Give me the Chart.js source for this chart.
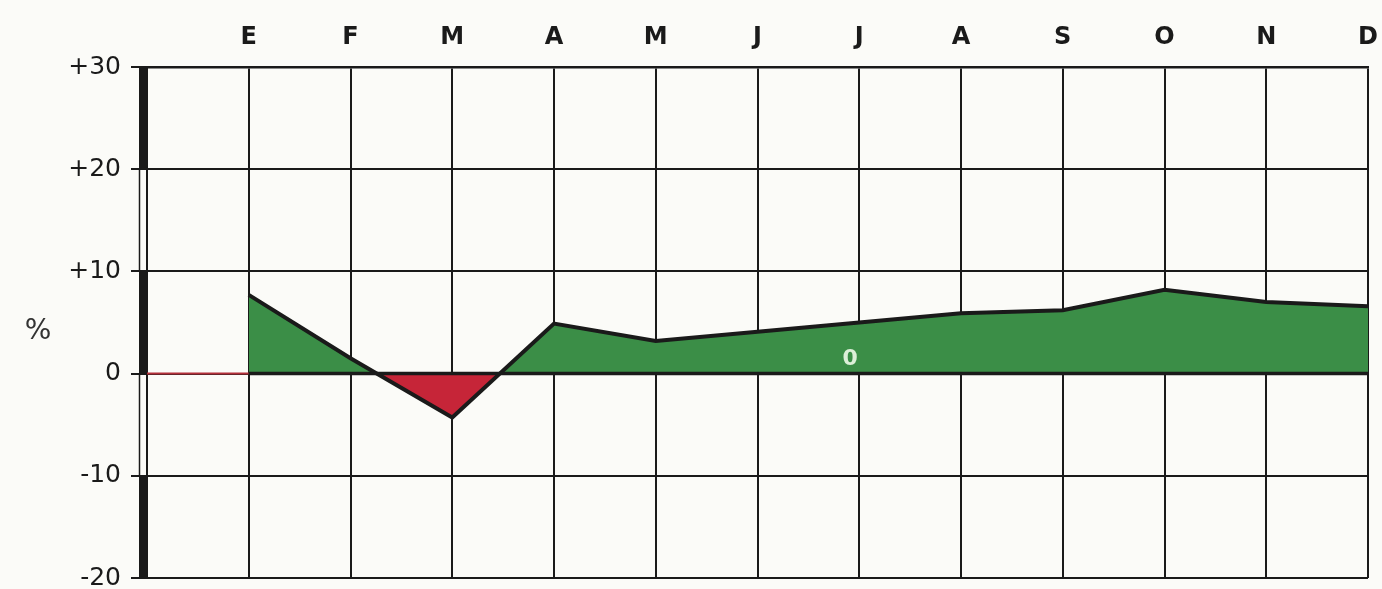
<!DOCTYPE html>
<html>
<head>
<meta charset="utf-8">
<script src="https://cdn.jsdelivr.net/npm/chart.js@4.4.1/dist/chart.umd.min.js"></script>
<style>
  html, body { margin: 0; padding: 0; background: #fbfbf8; }
  #wrap { width: 1382px; height: 589px; position: relative; }
</style>
</head>
<body>
<div id="wrap"><canvas id="c" width="1382" height="589"></canvas></div>
<script>
const months = ['E', 'F', 'M', 'A', 'M', 'J', 'J', 'A', 'S', 'O', 'N', 'D'];
const values = [7.7, 1.5, -4.3, 4.9, 3.2, 4.1, 5.0, 5.9, 6.2, 8.2, 7.0, 6.6];
const yTicks = [-20, -10, 0, 10, 20, 30];
const yLabels = ['-20', '-10', '0', '+10', '+20', '+30'];
const unitLabel = '%';
const strayLabel = { text: '0', x: 6.91, y: 1.4 };

const GREEN = '#3b8e47';
const RED = '#c62538';
const INK = '#1a1a1a';

const points = months.map((m, i) => ({ x: i + 1, y: values[i] }));
const baseline = months.map((m, i) => ({ x: i + 1, y: 0 }));

const decor = {
  id: 'decor',
  beforeDatasetsDraw(chart) {
    const { ctx, scales: { x, y } } = chart;
    ctx.save();
    ctx.strokeStyle = '#b3303a';
    ctx.lineWidth = 2;
    ctx.beginPath();
    ctx.moveTo(x.getPixelForValue(0), y.getPixelForValue(0));
    ctx.lineTo(x.getPixelForValue(1), y.getPixelForValue(0));
    ctx.stroke();
    ctx.restore();
  },
  afterDraw(chart) {
    const { ctx, scales: { x, y } } = chart;
    const left = x.getPixelForValue(0);
    ctx.save();
    ctx.fillStyle = INK;
    ctx.strokeStyle = INK;
    for (let i = 0; i < yTicks.length - 1; i++) {
      const top = y.getPixelForValue(yTicks[i + 1]);
      const bot = y.getPixelForValue(yTicks[i]);
      if (i % 2 === 0) {
        ctx.fillRect(left - 8, top, 8, bot - top);
      } else {
        ctx.lineWidth = 1.5;
        ctx.beginPath();
        ctx.moveTo(left - 7.5, top); ctx.lineTo(left - 7.5, bot);
        ctx.stroke();
      }
    }
    ctx.fillStyle = '#333';
    ctx.font = '28px "DejaVu Sans", sans-serif';
    ctx.textAlign = 'center';
    ctx.textBaseline = 'middle';
    ctx.fillText(unitLabel, 38, y.getPixelForValue(4.1));
    ctx.fillStyle = '#dcefd8';
    ctx.font = 'bold 22px "DejaVu Sans", sans-serif';
    ctx.fillText(strayLabel.text, x.getPixelForValue(strayLabel.x), y.getPixelForValue(strayLabel.y));
    ctx.restore();
  }
};

new Chart(document.getElementById('c'), {
  type: 'line',
  data: {
    datasets: [
      {
        data: points,
        borderColor: INK,
        borderWidth: 4,
        pointRadius: 0,
        tension: 0,
        fill: { target: 'origin', above: GREEN, below: RED },
        order: 1
      },
      {
        data: baseline,
        borderColor: INK,
        borderWidth: 3.5,
        pointRadius: 0,
        fill: false,
        order: 0
      }
    ]
  },
  options: {
    responsive: false,
    animation: false,
    layout: { padding: { left: 0, right: 14, top: 0, bottom: 11 } },
    plugins: { legend: { display: false }, tooltip: { enabled: false } },
    scales: {
      x: {
        type: 'linear',
        position: 'top',
        min: 0,
        max: 12,
        afterFit(s) { s.height = 67; s.paddingLeft = 0; s.paddingRight = 0; },
        afterBuildTicks(s) { s.ticks = months.map((m, i) => ({ value: i })).concat([{ value: 12 }]); },
        ticks: {
          padding: 15,
          maxRotation: 0,
          autoSkip: false,
          color: '#1a1a1a',
          font: { family: '"DejaVu Sans", sans-serif', size: 24, weight: 'bold' },
          callback: (v) => (v >= 1 ? months[v - 1] : '')
        },
        grid: { color: INK, lineWidth: 2, drawTicks: false },
        border: { display: true, color: INK, width: 2.5 }
      },
      y: {
        min: -20,
        max: 30,
        afterFit(s) { s.width = 147; s.paddingTop = 0; s.paddingBottom = 0; },
        afterBuildTicks(s) { s.ticks = yTicks.map(v => ({ value: v })); },
        ticks: {
          padding: 10,
          color: '#1a1a1a',
          font: { family: '"DejaVu Sans", sans-serif', size: 25 },
          callback: (v) => yLabels[yTicks.indexOf(v)]
        },
        grid: { color: INK, lineWidth: 2, tickLength: 16, tickColor: INK },
        border: { display: true, color: INK, width: 2 }
      }
    }
  },
  plugins: [decor]
});
</script>
</body>
</html>
